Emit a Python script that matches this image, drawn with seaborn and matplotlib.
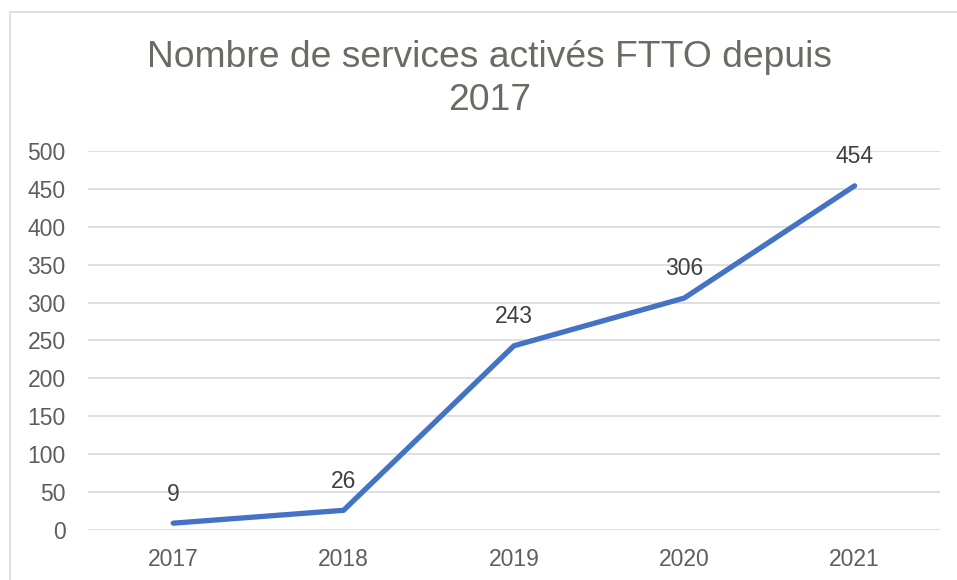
import seaborn as sns
import pandas as pd
import matplotlib.pyplot as plt
from matplotlib.patches import Rectangle

annees = ["2017", "2018", "2019", "2020", "2021"]
services = [9, 26, 243, 306, 454]
y_ticks = [0, 50, 100, 150, 200, 250, 300, 350, 400, 450, 500]

df = pd.DataFrame({"Année": annees, "Services": services})

sns.set_style("white")
plt.rcParams["font.family"] = ["Liberation Sans", "DejaVu Sans"]

fig = plt.figure(figsize=(9.57, 5.8), dpi=100)
ax = fig.add_axes([0.092, 0.0862, 0.890, 0.6535])

# cadre du graphique (style Excel)
fig.patches.append(Rectangle((10 / 957, -0.1), 1.2, 1 - 12 / 580 + 0.1, transform=fig.transFigure,
                             fill=False, edgecolor="#D9D9D9", linewidth=1.2))

sns.lineplot(data=df, x="Année", y="Services", ax=ax, color="#4472C4", linewidth=3.8,
             solid_capstyle="round", solid_joinstyle="round", zorder=3)

# étiquettes de données
for i, v in enumerate(services):
    ax.annotate(str(v), (i, v), xytext=(0, 21), textcoords="offset points",
                ha="center", va="center", fontsize=16.5, color="#404040")

ax.set_xlim(-0.5, len(annees) - 0.5)
ax.set_ylim(0, 500)
ax.set_yticks(y_ticks)
ax.grid(axis="y", color="#D9D9D9", linewidth=1.2)
ax.set_axisbelow(True)
for s in ["top", "right", "left", "bottom"]:
    ax.spines[s].set_visible(False)
ax.tick_params(length=0, labelsize=16.5, labelcolor="#5E5E5A")
ax.tick_params(axis="y", pad=16)
ax.tick_params(axis="x", pad=13)
ax.set_xlabel("")
ax.set_ylabel("")

fig.text(490 / 957, 1 - 79 / 580, "Nombre de services activés FTTO depuis\n2017", ha="center", va="center",
         fontsize=26.8, color="#6B6B63", linespacing=1.3)

fig.savefig("out.png", dpi=100)
